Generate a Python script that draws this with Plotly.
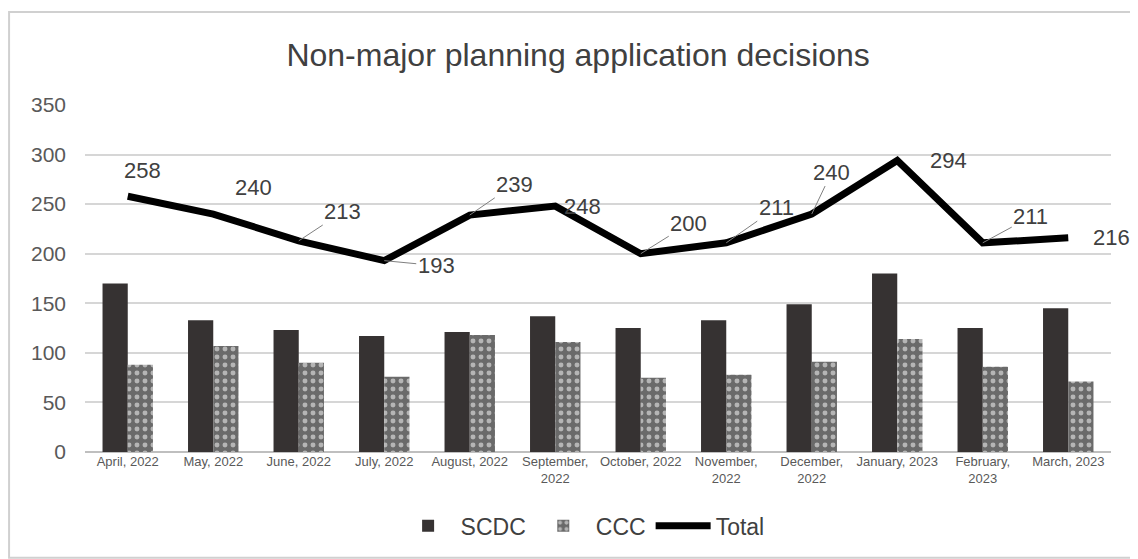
import plotly.graph_objects as go

months = ["April, 2022", "May, 2022", "June, 2022", "July, 2022", "August, 2022",
          "September,<br>2022", "October, 2022", "November,<br>2022", "December,<br>2022",
          "January, 2023", "February,<br>2023", "March, 2023"]
scdc = [170, 133, 123, 117, 121, 137, 125, 133, 149, 180, 125, 145]
ccc = [88, 107, 90, 76, 118, 111, 75, 78, 91, 114, 86, 71]
total = [258, 240, 213, 193, 239, 248, 200, 211, 240, 294, 211, 216]
y_ticks = [0, 50, 100, 150, 200, 250, 300, 350]

# label offsets (pixels) and whether a leader line is drawn
label_dx = [15, 40, 44, 52, 45, 27, 48, 50, 20, 51, 48, 43]
label_dy = [-26, -27, -29, 5, -31, 0, -30, -35, -42, 0, -26, 0]
leader = [False, False, True, True, True, False, True, True, True, False, True, False]

FONT = "Liberation Sans, Arial"

fig = go.Figure()
fig.add_trace(go.Bar(x=months, y=scdc, name="SCDC",
                     marker=dict(color="#363232", line=dict(width=0))))
fig.add_trace(go.Bar(x=months, y=ccc, name="CCC",
                     marker=dict(color="#6a6a6a", line=dict(width=0),
                                 pattern=dict(shape=".", fgcolor="#ffffff",
                                              bgcolor="#6a6a6a", size=8, solidity=0.3))))
fig.add_trace(go.Scatter(x=months, y=total, name="Total", mode="lines",
                         line=dict(color="#000000", width=7)))

for i, (m, t) in enumerate(zip(months, total)):
    if leader[i]:
        fig.add_annotation(x=m, y=t, text=str(t), showarrow=True, arrowhead=0,
                           arrowwidth=1, arrowcolor="#808080", ax=label_dx[i], ay=label_dy[i],
                           xanchor="center", yanchor="middle",
                           font=dict(size=22, color="#404040", family=FONT))
    else:
        fig.add_annotation(x=m, y=t, text=str(t), showarrow=False,
                           xshift=label_dx[i], yshift=-label_dy[i],
                           font=dict(size=22, color="#404040", family=FONT))

# outer chart border
fig.add_shape(type="rect", xref="paper", yref="paper", x0=-0.074, x1=1.025,
              y0=-0.305, y1=1.268, line=dict(color="#d0d0d0", width=2), layer="below")

fig.update_layout(
    width=1138, height=559,
    margin=dict(l=77, r=35, t=97, b=115),
    paper_bgcolor="white", plot_bgcolor="white",
    title=dict(text="Non-major planning application decisions", x=0.501, xanchor="center",
               y=0.916, yanchor="middle", xref="container",
               font=dict(size=32, color="#404040", family=FONT)),
    barmode="group", bargap=0.41, bargroupgap=0,
    font=dict(family=FONT, color="#595959"),
    legend=dict(orientation="h", x=0.485, xanchor="center", y=-0.213, yanchor="middle",
                font=dict(size=23, color="#404040"), bgcolor="rgba(0,0,0,0)",
                traceorder="normal", itemwidth=55),
    showlegend=True,
)
fig.update_yaxes(range=[0, 350], tickvals=y_ticks, showgrid=True, gridcolor="#d6d6d6",
                 gridwidth=1.5, zeroline=True, zerolinecolor="#bfbfbf", zerolinewidth=2,
                 tickfont=dict(size=21, color="#595959"), ticklabelstandoff=18, showline=False)
fig.update_xaxes(range=[-0.5, 11.5], autorange=False, tickfont=dict(size=13, color="#595959"),
                 showline=False, ticks="")

fig.write_html("out.html")
